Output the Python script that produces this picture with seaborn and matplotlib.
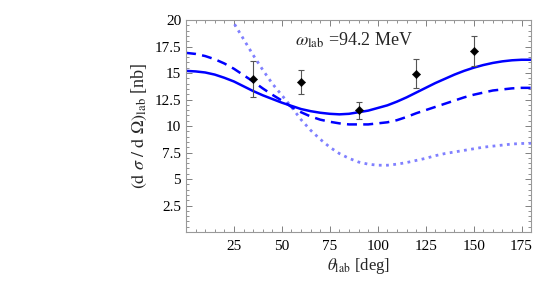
import numpy as np
import pandas as pd
import matplotlib
matplotlib.use("Agg")
import matplotlib.pyplot as plt
from matplotlib.ticker import MultipleLocator
import seaborn as sns

# curves, every 5 deg
theta = list(range(0, 185, 5))
full = [15.2, 15.15, 15.05, 14.85, 14.55, 14.2, 13.75, 13.3, 12.9, 12.55, 12.2, 11.9,
        11.6, 11.4, 11.25, 11.15, 11.1, 11.15, 11.3, 11.45, 11.7, 11.95, 12.3, 12.7,
        13.15, 13.6, 14.05, 14.45, 14.85, 15.2, 15.5, 15.75, 15.95, 16.1, 16.2, 16.25, 16.25]
dashed = [16.9, 16.8, 16.6, 16.3, 15.9, 15.4, 14.8, 14.2, 13.55, 12.95, 12.4, 11.8,
          11.3, 10.9, 10.6, 10.4, 10.25, 10.15, 10.15, 10.15, 10.25, 10.35, 10.55, 10.85,
          11.2, 11.5, 11.8, 12.1, 12.4, 12.7, 12.95, 13.15, 13.35, 13.45, 13.55, 13.6, 13.6]
theta_dot = list(range(15, 185, 5))
dotted = [23.0, 21.3, 19.7, 18.2, 16.7, 15.3, 14.0, 12.9, 11.8, 10.6, 9.6, 8.75, 8.0,
          7.4, 6.95, 6.6, 6.4, 6.3, 6.3, 6.4, 6.55, 6.75, 6.95, 7.2, 7.4, 7.55, 7.7,
          7.85, 8.0, 8.1, 8.2, 8.3, 8.35, 8.37]

# data points
exp_theta = [35, 60, 90, 120, 150]
exp_val = [14.4, 14.15, 11.5, 14.95, 17.1]
exp_err = [1.7, 1.15, 0.8, 1.35, 1.4]

xticks = [25, 50, 75, 100, 125, 150, 175]
yticks = [2.5, 5, 7.5, 10, 12.5, 15, 17.5, 20]
ytick_labels = ["2.5", "5", "7.5", "10", "12.5", "15", "17.5", "20"]

sns.set_theme(style="ticks")
plt.rcParams["font.family"] = ["Liberation Serif", "DejaVu Serif"]
plt.rcParams["mathtext.fontset"] = "stix"

fig = plt.figure(figsize=(5.36, 2.90), dpi=100)
ax = fig.add_axes([0.347, 0.2, 0.644, 0.731])

df = pd.DataFrame({"theta": theta, "full": full, "dashed": dashed})
dfd = pd.DataFrame({"theta": theta_dot, "dotted": dotted})

sns.lineplot(data=dfd, x="theta", y="dotted", ax=ax, color="#8080ff",
             linestyle=(0, (1, 1.6)), linewidth=2.0)
sns.lineplot(data=df, x="theta", y="dashed", ax=ax, color="#0000ff",
             linestyle=(0, (4, 2.5)), linewidth=1.8)
sns.lineplot(data=df, x="theta", y="full", ax=ax, color="#0000ff", linewidth=1.8)

ax.errorbar(exp_theta, exp_val, yerr=exp_err, fmt="none", ecolor="#555555",
            elinewidth=0.8, capsize=2.5, capthick=0.8, zorder=4)
sns.scatterplot(x=exp_theta, y=exp_val, ax=ax, marker="D", color="black", s=18,
                edgecolor="black", zorder=5)

ax.set_xlim(0, 180)
ax.set_ylim(0, 20)
ax.set_xticks(xticks)
ax.set_xticklabels([str(t) for t in xticks])
ax.set_yticks(yticks)
ax.set_yticklabels(ytick_labels)
ax.xaxis.set_minor_locator(MultipleLocator(5))
ax.yaxis.set_minor_locator(MultipleLocator(0.5))

for s in ax.spines.values():
    s.set_color("#999999")
    s.set_linewidth(0.8)
ax.tick_params(which="both", direction="in", color="#808080", labelsize=11,
               labelcolor="black", top=True, right=True)
ax.tick_params(which="major", length=4, width=0.7)
ax.tick_params(which="minor", length=2, width=0.6)
ax.tick_params(axis="x", pad=6)

ax.set_xlabel(r"$\theta_{\mathrm{lab}}$ [deg]", fontsize=12, labelpad=2)
ax.set_ylabel(r"$(\mathrm{d}\ \sigma\ /\ \mathrm{d}\ \Omega)_{\mathrm{lab}}$ [nb]",
              fontsize=13, labelpad=4)
ax.text(57, 18.1, r"$\omega_{\mathrm{lab}}$ =94.2 MeV", fontsize=13, va="center")

fig.savefig("out.png", dpi=100)
